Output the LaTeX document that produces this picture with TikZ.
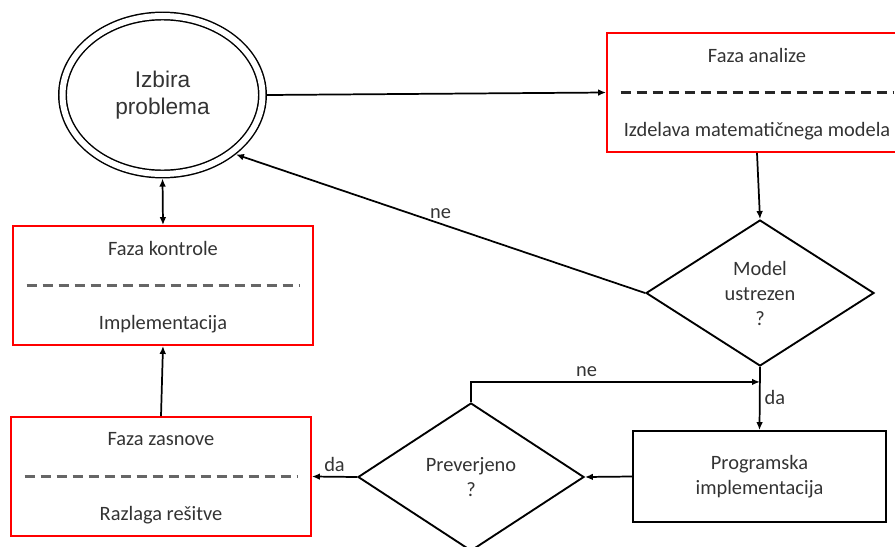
\documentclass[tikz,border=0pt]{standalone}
\usepackage{fontspec}
\setmainfont{Carlito}
\newfontfamily\arialfont{Liberation Sans}
\usetikzlibrary{shapes.geometric,arrows.meta,positioning}

\tikzset{
  >={Latex[length=6pt,width=5pt]},
  start/.style={ellipse, draw, double, double distance=4.5pt, line width=1.1pt,
    minimum width=150pt, minimum height=118.5pt, inner sep=0pt, outer sep=3.4pt,
    align=center, text=black!80, font=\arialfont\fontsize{17pt}{20.5pt}\selectfont},
  phase/.style={draw=red, line width=1.4pt, minimum width=225pt,
    minimum height=89.25pt, inner sep=0pt},
  decision/.style={diamond, draw, line width=1.4pt, inner sep=0pt,
    align=center, text=black!80},
  program/.style={draw, line width=1.4pt, minimum width=189.75pt,
    minimum height=68.25pt, align=center, text=black!80},
  lbl/.style={text=black!80, inner sep=3pt},
  divider/.style={dash pattern=on 7.5pt off 4.5pt, line width=1.8pt},
  conn/.style={line width=1.3pt}
}

\begin{document}
\begin{tikzpicture}[x=0.75pt, y=-0.75pt, font=\fontsize{15.3pt}{18.75pt}\selectfont]
  \useasboundingbox (0,0) rectangle (895,546);
  \clip (0,0) rectangle (895,546);

  % Start
  \node[start] (izbira) at (162.5,95) {Izbira\\problema};

  % Phases (red boxes)
  \node[phase] (analiza) at (757,92.5) {};
  \node[phase] (kontrola) at (163,285.5) {};
  \node[phase] (zasnova) at (161,476.5) {};

  % Titles, dividers and tasks of the phases
  \foreach \n/\t/\b/\c in {analiza/Faza analize/Izdelava matematičnega modela/black!85,
      kontrola/Faza kontrole/Implementacija/black!60,
      zasnova/Faza zasnove/Razlaga rešitve/black!60} {
    \node[lbl] (\n-t) at ([yshift=-17.25pt]\n.north) {\t};
    \draw[divider, draw=\c] ([xshift=11pt]\n.west) -- ([xshift=-11pt]\n.east);
    \node[lbl] (\n-b) at ([yshift=16.5pt]\n.south) {\b};
  }

  % Decisions
  \node[decision, minimum width=171pt, minimum height=109.5pt] (model) at (760,293) {Model\\ustrezen\\?};
  \node[decision, minimum width=169.5pt, minimum height=111pt] (prever) at (471,477) {Preverjeno\\?};

  % Program
  \node[program] (prog) at (759.5,476.5) {Programska\\implementacija};
  \coordinate[below=11.25pt of model.south] (join);

  % Connectors
  \draw[conn, ->] (izbira.east) -- (analiza.west);
  \draw[conn, ->] (analiza.south) -- (model.north);
  \draw[conn, ->] (model.west) -- node[lbl, above] {ne} (izbira.-39);
  \draw[conn, <->] (izbira.south) -- (kontrola.north);
  \draw[conn, ->] (zasnova.north) -- (kontrola.south);
  \draw[conn, ->] (model.south) -- node[lbl, right, pos=0.48] {da} (prog.north);
  \draw[conn, ->] (prever.north) |- node[lbl, above, pos=0.7] {ne} (join);
  \draw[conn, ->] (prog.west) -- (prever.east);
  \draw[conn, ->] (prever.west) -- node[lbl, above] {da} (zasnova.east);
\end{tikzpicture}
\end{document}
